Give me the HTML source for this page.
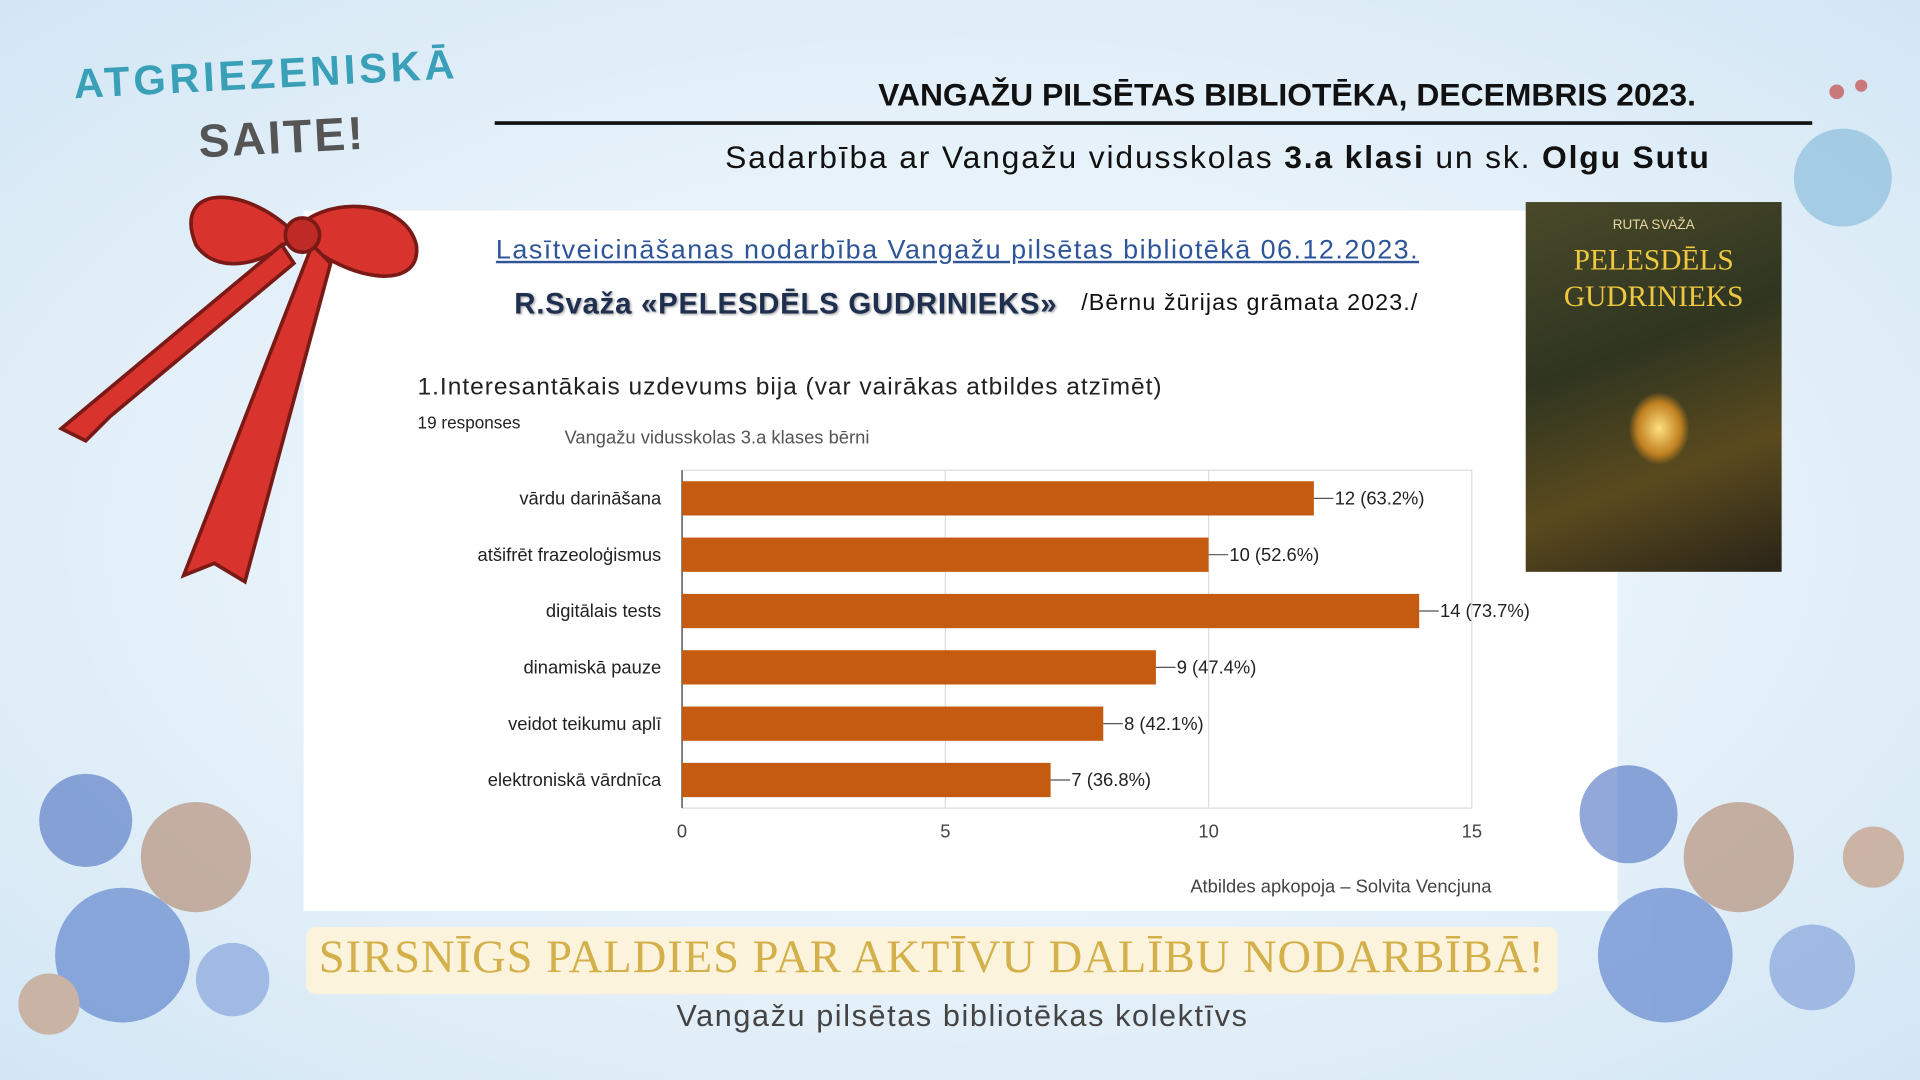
<!DOCTYPE html>
<html><head><meta charset="utf-8"><style>
html,body{margin:0;padding:0;width:1920px;height:1080px;overflow:hidden}
#s{position:absolute;left:0;top:0;width:1568px;height:882px;transform:scale(1.22449);transform-origin:0 0;
background:radial-gradient(ellipse at 50% 50%,#f4f9fd 0%,#e4f0f9 60%,#d2e6f4 100%);font-family:"Liberation Sans",sans-serif;overflow:hidden}
.a{position:absolute;white-space:nowrap}
</style></head><body><div id="s">
<div class="a" style="left:248px;top:172px;width:1073px;height:572px;background:#fff"></div>
<div class="a" style="left:60px;top:42px;font-size:34px;font-weight:bold;color:#3aa0b8;letter-spacing:3px;transform:rotate(-3deg)">ATGRIEZENISKĀ</div>
<div class="a" style="left:162px;top:92px;font-size:38px;font-weight:bold;color:#555;letter-spacing:2px;transform:rotate(-3deg)">SAITE!</div>
<div class="a" style="right:183px;top:62px;font-size:26px;font-weight:bold;color:#111">VANGAŽU PILSĒTAS BIBLIOTĒKA, DECEMBRIS 2023.</div>
<div class="a" style="left:404px;top:99px;width:1076px;height:3px;background:#111"></div>
<div class="a" style="right:171px;top:113px;font-size:26px;color:#111;letter-spacing:1.5px">Sadarbība ar Vangažu vidusskolas <b>3.a klasi</b> un sk. <b>Olgu Sutu</b></div>
<div class="a" style="left:1246px;top:165px;width:209px;height:302px;background:linear-gradient(160deg,#4a4a2a,#2f3520 40%,#5a4a1e 70%,#2a2418)"></div>
<div class="a" style="left:1246px;top:178px;width:209px;text-align:center;font-size:11px;color:#e8d8a0">RUTA SVAŽA</div>
<div class="a" style="left:1246px;top:198px;width:209px;text-align:center;font-family:'Liberation Serif',serif;font-size:24px;line-height:30px;color:#f0c840">PELESDĒLS<br>GUDRINIEKS</div>
<div class="a" style="left:1330px;top:320px;width:50px;height:60px;border-radius:50%;background:radial-gradient(#ffe080,#c08020 50%,transparent 70%)"></div>
<div class="a" style="left:405px;top:191px;font-size:22px;color:#2e5597;text-decoration:underline;letter-spacing:1.2px">Lasītveicināšanas nodarbība Vangažu pilsētas bibliotēkā 06.12.2023.</div>
<div class="a" style="left:420px;top:235px;font-size:24px;font-weight:bold;color:#1f2f4f;text-shadow:1px 1px 2px #999;letter-spacing:0.6px">R.Svaža «PELESDĒLS GUDRINIEKS»</div>
<div class="a" style="left:883px;top:237px;font-size:19px;color:#111;letter-spacing:0.9px">/Bērnu žūrijas grāmata 2023./</div>
<div class="a" style="left:341px;top:305px;font-size:20px;color:#222;letter-spacing:0.8px">1.Interesantākais uzdevums bija (var vairākas atbildes atzīmēt)</div>
<div class="a" style="left:341px;top:337px;font-size:14px;color:#222">19 responses</div>
<div class="a" style="left:461px;top:349px;font-size:15px;color:#555">Vangažu vidusskolas 3.a klases bērni</div>
<svg class="a" style="left:0;top:0" width="1568" height="882" font-family="Liberation Sans" font-size="15" fill="#222">
<g stroke="#ddd" stroke-width="1"><line x1="557" y1="384" x2="1202" y2="384"/><line x1="772" y1="384" x2="772" y2="660"/><line x1="987" y1="384" x2="987" y2="660"/><line x1="1202" y1="384" x2="1202" y2="660"/><line x1="557" y1="660" x2="1202" y2="660"/></g>
<line x1="557" y1="384" x2="557" y2="660" stroke="#333"/>
<g fill="#c55a11">
<rect x="557" y="393" width="516" height="28"/><rect x="557" y="439" width="430" height="28"/><rect x="557" y="485" width="602" height="28"/><rect x="557" y="531" width="387" height="28"/><rect x="557" y="577" width="344" height="28"/><rect x="557" y="623" width="301" height="28"/></g>
<g text-anchor="end"><text x="540" y="412">vārdu darināšana</text><text x="540" y="458">atšifrēt frazeoloģismus</text><text x="540" y="504">digitālais tests</text><text x="540" y="550">dinamiskā pauze</text><text x="540" y="596">veidot teikumu aplī</text><text x="540" y="642">elektroniskā vārdnīca</text></g>
<g stroke="#555"><line x1="1073" y1="407" x2="1089" y2="407"/><line x1="987" y1="453" x2="1003" y2="453"/><line x1="1159" y1="499" x2="1175" y2="499"/><line x1="944" y1="545" x2="960" y2="545"/><line x1="901" y1="591" x2="917" y2="591"/><line x1="858" y1="637" x2="874" y2="637"/></g>
<text x="1090" y="412">12 (63.2%)</text><text x="1004" y="458">10 (52.6%)</text><text x="1176" y="504">14 (73.7%)</text><text x="961" y="550">9 (47.4%)</text><text x="918" y="596">8 (42.1%)</text><text x="875" y="642">7 (36.8%)</text>
<g text-anchor="middle" fill="#444"><text x="557" y="684">0</text><text x="772" y="684">5</text><text x="987" y="684">10</text><text x="1202" y="684">15</text></g>
<text x="1218" y="729" text-anchor="end" fill="#444">Atbildes apkopoja – Solvita Vencjuna</text>
<path d="M240 190 C200 150 140 150 160 200 C180 230 230 210 240 190 C260 160 330 160 340 200 C345 240 280 230 240 190 Z" fill="#d9332e" stroke="#7a1a16" stroke-width="3"/>
<path d="M230 200 L50 350 L70 360 L90 340 L240 215 Z M255 200 L150 470 L175 460 L200 475 L270 215 Z" fill="#d9332e" stroke="#7a1a16" stroke-width="3"/>
<circle cx="247" cy="192" r="14" fill="#c02a26" stroke="#7a1a16" stroke-width="3"/>
<g opacity="0.6"><circle cx="70" cy="670" r="38" fill="#4a6fc0"/><circle cx="160" cy="700" r="45" fill="#b08468"/><circle cx="100" cy="780" r="55" fill="#5078c8"/><circle cx="190" cy="800" r="30" fill="#7a9ad8"/><circle cx="40" cy="820" r="25" fill="#c09070"/>
<circle cx="1330" cy="665" r="40" fill="#4a6fc0"/><circle cx="1420" cy="700" r="45" fill="#b08468"/><circle cx="1360" cy="780" r="55" fill="#5078c8"/><circle cx="1480" cy="790" r="35" fill="#7a9ad8"/><circle cx="1530" cy="700" r="25" fill="#c09070"/>
<circle cx="1505" cy="145" r="40" fill="#7fb8d8"/><circle cx="1500" cy="75" r="6" fill="#c0302a"/><circle cx="1520" cy="70" r="5" fill="#c0302a"/></g>
</svg>
<div class="a" style="left:250px;top:757px;width:1022px;height:55px;background:#fbf3dc;border-radius:8px"></div>
<div class="a" style="left:250px;top:760px;width:1022px;text-align:center;font-family:'Liberation Serif',serif;font-size:38px;color:#d4b04a;letter-spacing:0.8px">SIRSNĪGS PALDIES PAR AKTĪVU DALĪBU NODARBĪBĀ!</div>
<div class="a" style="left:286px;top:816px;width:1000px;text-align:center;font-size:25px;color:#444;letter-spacing:1.3px">Vangažu pilsētas bibliotēkas kolektīvs</div>
</div></body></html>
